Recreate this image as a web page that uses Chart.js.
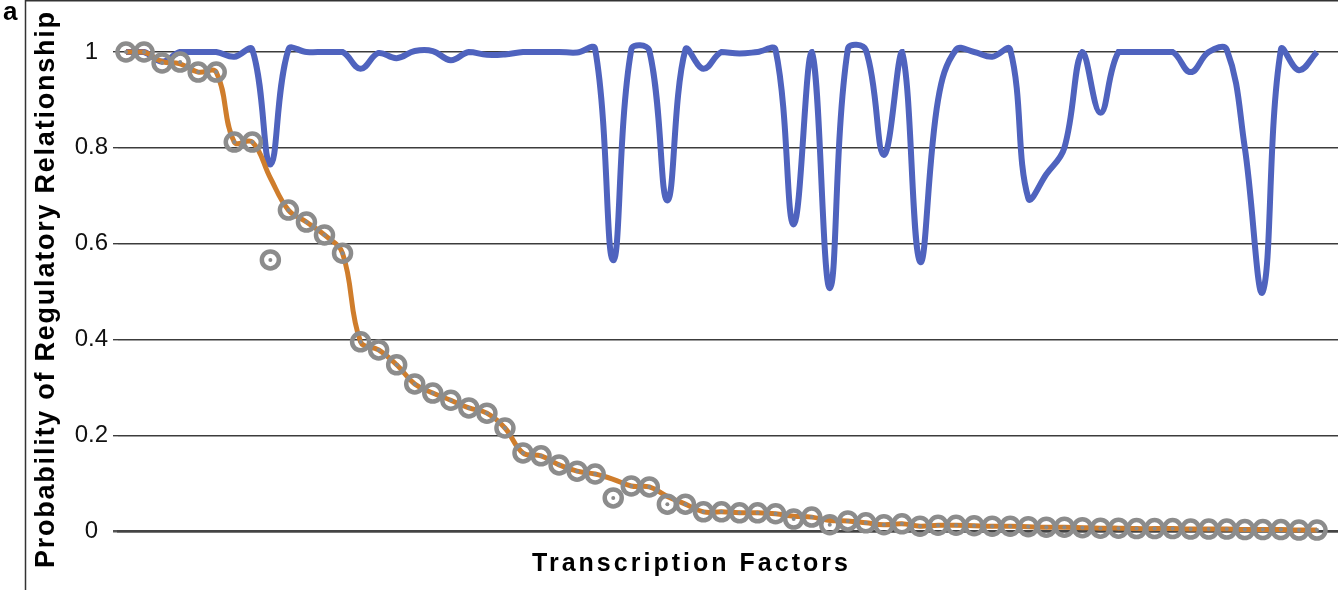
<!DOCTYPE html>
<html>
<head>
<meta charset="utf-8">
<script src="https://cdn.jsdelivr.net/npm/chart.js@4.4.1/dist/chart.umd.min.js"></script>
<style>
  html, body { margin: 0; padding: 0; background: #fff; overflow: hidden; }
  canvas { display: block; }
</style>
</head>
<body>
<canvas id="chart" width="1338" height="590"></canvas>
<script>
// transcription factors, in ranked order
const factors = [1, 2, 3, 4, 5, 6, 7, 8, 9, 10, 11, 12, 13, 14, 15, 16, 17, 18, 19, 20,
  21, 22, 23, 24, 25, 26, 27, 28, 29, 30, 31, 32, 33, 34, 35, 36, 37, 38, 39, 40,
  41, 42, 43, 44, 45, 46, 47, 48, 49, 50, 51, 52, 53, 54, 55, 56, 57, 58, 59, 60,
  61, 62, 63, 64, 65, 66, 67];

// blue curve
const blueValues = [1.0, 1.0, 0.98, 1.0, 1.0, 1.0, 0.99, 1.005, 0.765, 1.005,
  1.0, 1.0, 1.0, 0.965, 0.998, 0.987, 1.002, 1.002, 0.983, 1.0,
  0.994, 0.995, 1.0, 1.0, 1.0, 0.999, 1.006, 0.565, 1.005, 1.003,
  0.69, 1.005, 0.965, 1.0, 0.997, 1.0, 1.004, 0.64, 1.0, 0.507,
  1.006, 1.004, 0.785, 1.0, 0.562, 0.9, 1.005, 1.0, 0.99, 1.005,
  0.695, 0.745, 0.80, 1.0, 0.873, 1.0, 1.0, 1.0, 1.0, 0.958,
  1.0, 1.005, 0.80, 0.5, 1.005, 0.962, 1.0];

// orange curve
const orangeValues = [1.0, 1.0, 0.98, 0.975, 0.958, 0.958, 0.812, 0.812, 0.737, 0.670,
  0.645, 0.618, 0.580, 0.395, 0.378, 0.347, 0.307, 0.288, 0.273, 0.257,
  0.246, 0.215, 0.163, 0.157, 0.138, 0.125, 0.119, 0.108, 0.094, 0.092,
  0.072, 0.056, 0.040, 0.040, 0.038, 0.038, 0.036, 0.031, 0.029, 0.022,
  0.021, 0.017, 0.013, 0.015, 0.010, 0.012, 0.012, 0.011, 0.010, 0.010,
  0.009, 0.008, 0.008, 0.007, 0.006, 0.006, 0.005, 0.005, 0.005, 0.004,
  0.004, 0.004, 0.003, 0.003, 0.003, 0.002, 0.002];

// grey ring markers
const greyValues = [1.0, 1.0, 0.977, 0.979, 0.958, 0.958, 0.812, 0.812, 0.566, 0.670,
  0.645, 0.618, 0.580, 0.395, 0.378, 0.347, 0.307, 0.288, 0.273, 0.257,
  0.246, 0.215, 0.163, 0.157, 0.138, 0.125, 0.119, 0.069, 0.094, 0.092,
  0.056, 0.056, 0.040, 0.040, 0.038, 0.038, 0.036, 0.025, 0.029, 0.013,
  0.021, 0.017, 0.013, 0.015, 0.010, 0.012, 0.012, 0.011, 0.010, 0.010,
  0.009, 0.008, 0.008, 0.007, 0.006, 0.006, 0.005, 0.005, 0.005, 0.004,
  0.004, 0.004, 0.003, 0.003, 0.003, 0.002, 0.002];

const yTicks = [0, 0.2, 0.4, 0.6, 0.8, 1];
const yTickLabels = ['0', '0.2', '0.4', '0.6', '0.8', '1'];

const xTitle = 'Transcription Factors';
const yTitle = 'Probability of Regulatory Relationship';
const panelLabel = 'a';

const FONT = '"Liberation Sans", Arial, Helvetica, sans-serif';

// draw text spread out to a given width
function spacedText(ctx, text, x, y, width) {
  ctx.letterSpacing = '0px';
  const w = ctx.measureText(text).width;
  const gap = Math.max(0, (width - w) / (text.length - 1));
  ctx.letterSpacing = gap + 'px';
  ctx.fillText(text, x + gap / 2, y);
  ctx.letterSpacing = '0px';
}

const decor = {
  id: 'decor',
  afterDraw(chart) {
    const ctx = chart.ctx;
    ctx.save();
    // panel frame
    ctx.strokeStyle = '#333';
    ctx.lineWidth = 1.5;
    ctx.beginPath();
    ctx.moveTo(25.5, 590);
    ctx.lineTo(25.5, 0.75);
    ctx.lineTo(1338, 0.75);
    ctx.stroke();

    ctx.fillStyle = '#000';
    ctx.textAlign = 'left';
    ctx.textBaseline = 'alphabetic';
    ctx.font = 'bold 26px ' + FONT;
    ctx.fillText(panelLabel, 3, 20);

    // x title
    ctx.textAlign = 'center';
    ctx.font = 'bold 25px ' + FONT;
    spacedText(ctx, xTitle, 690, 571, 316);

    // y title
    ctx.translate(54, 290);
    ctx.rotate(-Math.PI / 2);
    ctx.font = 'bold 27px ' + FONT;
    spacedText(ctx, yTitle, 0, 0, 556);
    ctx.restore();
  }
};

const ctx = document.getElementById('chart').getContext('2d');
new Chart(ctx, {
  type: 'line',
  data: {
    labels: factors,
    datasets: [
      {
        label: 'dots',
        data: greyValues,
        showLine: false,
        pointRadius: 2,
        pointBorderWidth: 0,
        pointBackgroundColor: '#8a8a8a',
        clip: false,
        order: 0
      },
      {
        label: 'rings',
        data: greyValues,
        showLine: false,
        pointRadius: 8.5,
        pointBorderWidth: 4.5,
        pointBorderColor: '#8c8c8c',
        pointBackgroundColor: 'rgba(0,0,0,0)',
        clip: false,
        order: 1
      },
      {
        label: 'orange',
        data: orangeValues,
        borderColor: '#cf7d2c',
        borderWidth: 5,
        pointRadius: 0,
        tension: 0.4,
        clip: false,
        order: 2
      },
      {
        label: 'blue',
        data: blueValues,
        borderColor: '#4f63be',
        borderWidth: 6,
        pointRadius: 0,
        tension: 0.4,
        clip: false,
        order: 3
      }
    ]
  },
  options: {
    responsive: false,
    animation: false,
    devicePixelRatio: 1,
    layout: { autoPadding: false, padding: { top: 52, right: 0, bottom: 0, left: 0 } },
    plugins: {
      legend: { display: false },
      tooltip: { enabled: false }
    },
    scales: {
      x: {
        type: 'linear',
        min: 0.557,
        max: 68.164,
        ticks: { display: false },
        grid: { display: false, drawTicks: false },
        border: { display: true, color: '#444', width: 2.5 },
        afterFit(scale) { scale.height = 59; }
      },
      y: {
        min: 0,
        max: 1,
        afterBuildTicks(scale) {
          scale.ticks = yTicks.map(v => ({ value: v }));
        },
        ticks: {
          crossAlign: 'center',
          padding: 5,
          color: '#111',
          font: { family: FONT, size: 24 },
          callback: (v, i) => yTickLabels[i]
        },
        grid: {
          color: c => (c.tick && c.tick.value === 0 ? '#555' : '#3c3c3c'),
          lineWidth: c => (c.tick && c.tick.value === 0 ? 2.5 : 1.4),
          tickLength: 5
        },
        border: { display: false },
        afterFit(scale) { scale.width = 118; }
      }
    }
  },
  plugins: [decor]
});
</script>
</body>
</html>
